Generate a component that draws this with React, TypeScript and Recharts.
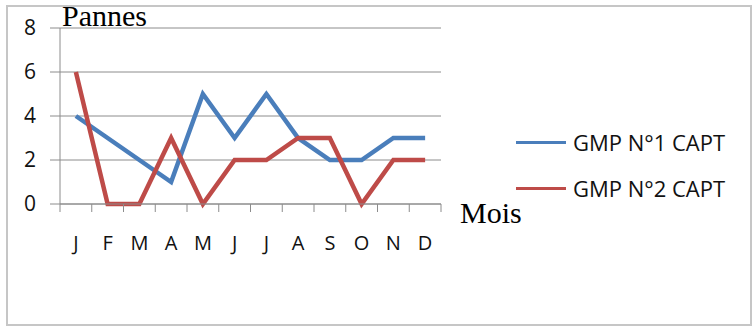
import React from "react";
import { LineChart, Line, XAxis, YAxis, CartesianGrid } from "recharts";

const months = ["J", "F", "M", "A", "M", "J", "J", "A", "S", "O", "N", "D"];
const gmp1 = [4, 3, 2, 1, 5, 3, 5, 3, 2, 2, 3, 3];
const gmp2 = [6, 0, 0, 3, 0, 2, 2, 3, 3, 0, 2, 2];
const seriesNames = ["GMP N°1 CAPT", "GMP N°2 CAPT"];
const yTicks = [0, 2, 4, 6, 8];

const data = months.map((m, i) => ({ key: `${m}${i}`, label: m, s1: gmp1[i], s2: gmp2[i] }));

const W = 753;
const H = 326;
const PLOT_LEFT = 60;
const PLOT_RIGHT = 441;
const PLOT_TOP = 28;
const PLOT_BOTTOM = 204;
const STEP = (PLOT_RIGHT - PLOT_LEFT) / months.length;

const GRID = "#8c8c8c";
const BLUE = "#4a7ebb";
const RED = "#be4b48";
const colors = [BLUE, RED];
const SANS = "'Open Sans', 'Noto Sans', sans-serif";
const SERIF = "'Liberation Serif', 'Times New Roman', serif";

// Month label centred in its band, with tick marks on the band edges
const MonthTick = (props: any) => {
  const { x, y, index, payload } = props;
  const left = x - STEP / 2;
  return (
    <g>
      <line x1={left} y1={PLOT_BOTTOM} x2={left} y2={PLOT_BOTTOM + 8} stroke={GRID} strokeWidth={1} />
      {index === months.length - 1 && (
        <line x1={x + STEP / 2} y1={PLOT_BOTTOM} x2={x + STEP / 2} y2={PLOT_BOTTOM + 8} stroke={GRID} strokeWidth={1} />
      )}
      <text x={x} y={y} dy={38} textAnchor="middle" fontFamily={SANS} fontSize={20} fill="#111">
        {data[index] ? data[index].label : payload.value}
      </text>
    </g>
  );
};

export default function App() {
  return (
    <div style={{ position: "absolute", left: 0, top: 0, width: W, height: H, background: "#fff" }}>
      <div
        style={{
          position: "absolute",
          left: 6,
          top: 5,
          width: 742,
          height: 317,
          border: "2px solid #c6c6c6",
        }}
      />
      <div style={{ position: "absolute", left: 0, top: 0 }}>
        <LineChart width={W} height={H} data={data} margin={{ top: PLOT_TOP, right: W - PLOT_RIGHT, bottom: 0, left: 0 }}>
          <CartesianGrid vertical={false} stroke={GRID} strokeWidth={1} />
          <XAxis
            dataKey="key"
            scale="band"
            height={H - PLOT_BOTTOM}
            axisLine={{ stroke: GRID, strokeWidth: 1 }}
            tickLine={false}
            interval={0}
            tick={<MonthTick />}
          />
          <YAxis
            width={PLOT_LEFT}
            domain={[0, 8]}
            ticks={yTicks}
            interval={0}
            axisLine={{ stroke: GRID, strokeWidth: 1 }}
            tickLine={{ stroke: GRID, strokeWidth: 1 }}
            tickSize={10}
            tickMargin={14}
            tick={{ fontFamily: SANS, fontSize: 21, fill: "#111" }}
          />
          <Line
            dataKey="s1"
            name={seriesNames[0]}
            stroke={BLUE}
            strokeWidth={4.5}
            dot={false}
            activeDot={false}
            isAnimationActive={false}
          />
          <Line
            dataKey="s2"
            name={seriesNames[1]}
            stroke={RED}
            strokeWidth={4.5}
            dot={false}
            activeDot={false}
            isAnimationActive={false}
          />
        </LineChart>
      </div>
      <div style={{ position: "absolute", left: 516, top: 119 }}>
        {seriesNames.map((name, i) => (
          <div key={name} style={{ display: "flex", alignItems: "center", height: 46 }}>
            <div style={{ width: 50, height: 3, background: colors[i], marginRight: 7 }} />
            <span style={{ fontFamily: SANS, fontSize: 22, color: "#111", whiteSpace: "nowrap" }}>{name}</span>
          </div>
        ))}
      </div>
      <div style={{ position: "absolute", left: 62, top: -1, fontFamily: SERIF, fontSize: 30, color: "#000", lineHeight: "34px" }}>
        Pannes
      </div>
      <div style={{ position: "absolute", left: 460, top: 196, fontFamily: SERIF, fontSize: 30, color: "#000", lineHeight: "34px" }}>
        Mois
      </div>
    </div>
  );
}
